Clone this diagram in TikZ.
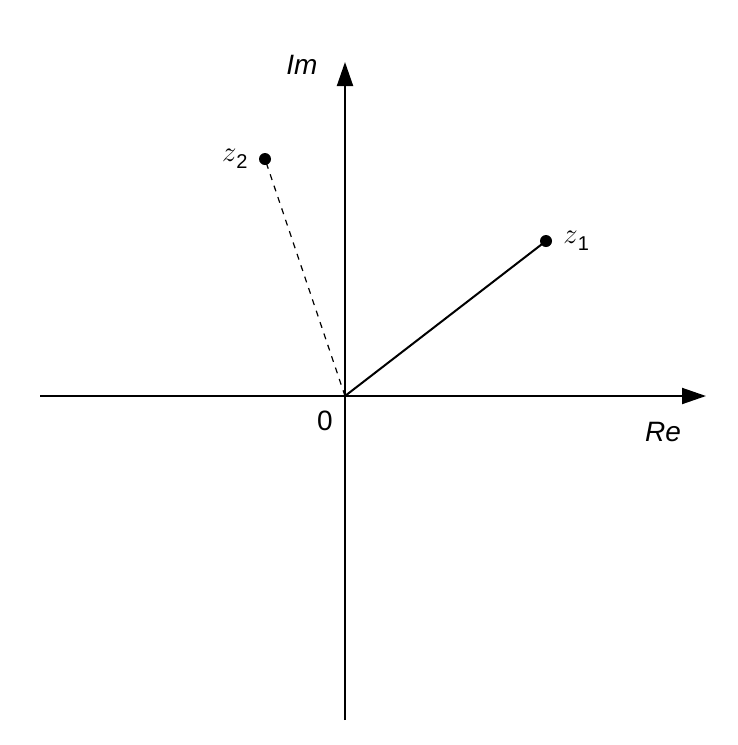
\documentclass[tikz,border=0pt]{standalone}
\usepackage{fontspec}
\setmainfont{Liberation Sans}
\usetikzlibrary{arrows.meta}
\tikzset{
	axis/.style={line width=1pt, -{Triangle[length=12pt,width=8pt]}},
	pt/.style={circle, fill=black, inner sep=0pt, minimum size=6pt},
	lbl/.style={font=\fontsize{14}{16}\selectfont}
}
\begin{document}
\begin{tikzpicture}[x=0.5pt, y=-0.5pt]
	\useasboundingbox (0,0) rectangle (738,745);
	% axes
	\coordinate (o) at (345,396);
	\draw[axis] (40,396) -- (706,396);
	\draw[axis] (345,720) -- (345,62);
	% points
	\node[pt] (z1) at (546,241) {};
	\node[pt] (z2) at (265,159) {};
	\draw[line width=1pt] (o) -- (z1.center);
	\draw[dashed, line width=0.6pt] (o) -- (z2.center);
	% labels
	\node[lbl] (im) at (302,65) {\textit{Im}};
	\node[lbl] (re) at (663,432) {\textit{Re}};
	\node[lbl] (zero) at (325,421) {0};
	\node[lbl, right=2pt] (l1) at (z1.east) {$z$\raisebox{-0.45ex}{\fontsize{10}{12}\selectfont 1}};
	\node[lbl, left=2pt] (l2) at (z2.west) {$z$\raisebox{-0.45ex}{\fontsize{10}{12}\selectfont 2}};
\end{tikzpicture}
\end{document}
